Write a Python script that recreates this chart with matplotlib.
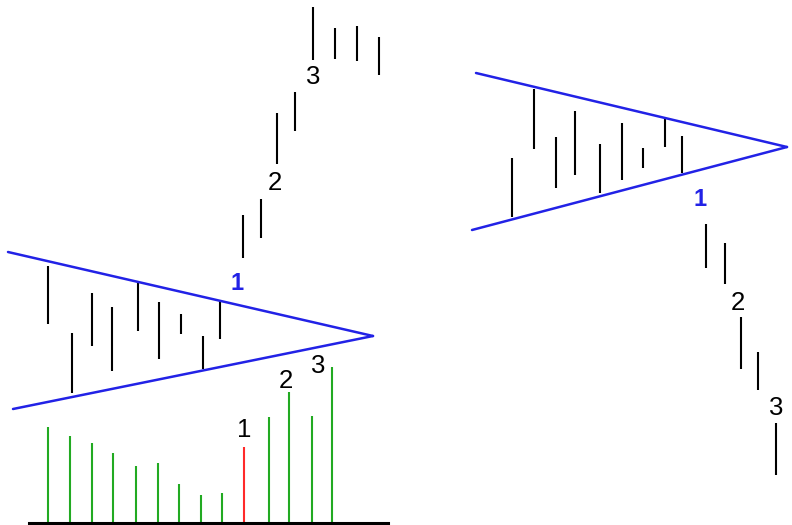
import matplotlib.pyplot as plt

plt.rcParams['font.family'] = ['Liberation Sans', 'DejaVu Sans']

# 坐标按参考图像素读取 (y 向下)
# 左侧三角形内的价格线
left_x = [48, 72, 92, 112, 138, 159, 181, 203, 220]
left_hi = [266, 333, 293, 307, 282, 302, 314, 336, 301]
left_lo = [324, 393, 346, 371, 331, 359, 334, 369, 339]

# 向上突破后的价格线
up_x = [243, 261, 277, 295, 313, 335, 357, 379]
up_hi = [215, 199, 113, 92, 7, 28, 26, 37]
up_lo = [258, 238, 164, 131, 60, 59, 61, 75]

# 左侧三角形边线
left_upper = ([8, 373], [252, 336])
left_lower = ([13, 373], [409, 336])

# 成交量
vol_x = [48, 70, 92, 113, 136, 158, 179, 201, 222, 244, 269, 289, 312, 332]
vol_top = [427, 436, 443, 453, 466, 463, 484, 495, 493, 447, 417, 392, 416, 367]
vol_base = 523
vol_red = 9  # 突破那根

# 右侧三角形
right_x = [512, 534, 556, 575, 600, 622, 643, 665, 682]
right_hi = [158, 89, 137, 111, 144, 123, 148, 118, 136]
right_lo = [217, 149, 188, 175, 193, 180, 168, 147, 173]
right_upper = ([476, 787], [73, 147])
right_lower = ([472, 787], [230, 147])

# 向下突破
down_x = [706, 725, 741, 758, 776]
down_hi = [224, 243, 317, 352, 423]
down_lo = [268, 284, 369, 390, 475]

# 标注
blue_labels = [(237, 284, '1'), (700, 199, '1')]
black_labels = [(275, 183, '2'), (313, 77, '3'),
                (244, 430, '1'), (286, 381, '2'), (318, 366, '3'),
                (738, 303, '2'), (776, 408, '3')]

BLUE = '#2222e6'
GREEN = '#22aa22'
RED = '#ff2a2a'

fig = plt.figure(figsize=(7.92, 5.25), dpi=100)
ax = fig.add_axes([0, 0, 1, 1])
ax.set_xlim(0, 792)
ax.set_ylim(525, 0)
ax.axis('off')

for xs, his, los in [(left_x, left_hi, left_lo), (up_x, up_hi, up_lo),
                     (right_x, right_hi, right_lo), (down_x, down_hi, down_lo)]:
    ax.vlines(xs, his, los, color='black', lw=1.5)

for line in [left_upper, left_lower, right_upper, right_lower]:
    ax.plot(line[0], line[1], color=BLUE, lw=1.8, solid_capstyle='round')

vol_colors = [RED if i == vol_red else GREEN for i in range(len(vol_x))]
ax.vlines(vol_x, vol_top, [vol_base] * len(vol_x), colors=vol_colors, lw=1.5)
ax.plot([29, 388], [vol_base, vol_base], color='black', lw=2.2)

for x, y, s in blue_labels:
    ax.text(x, y, s, color=BLUE, fontsize=17, fontweight='bold', ha='center', va='center')
for x, y, s in black_labels:
    ax.text(x, y, s, color='black', fontsize=18.5, ha='center', va='center')

fig.savefig('out.png', dpi=100)
